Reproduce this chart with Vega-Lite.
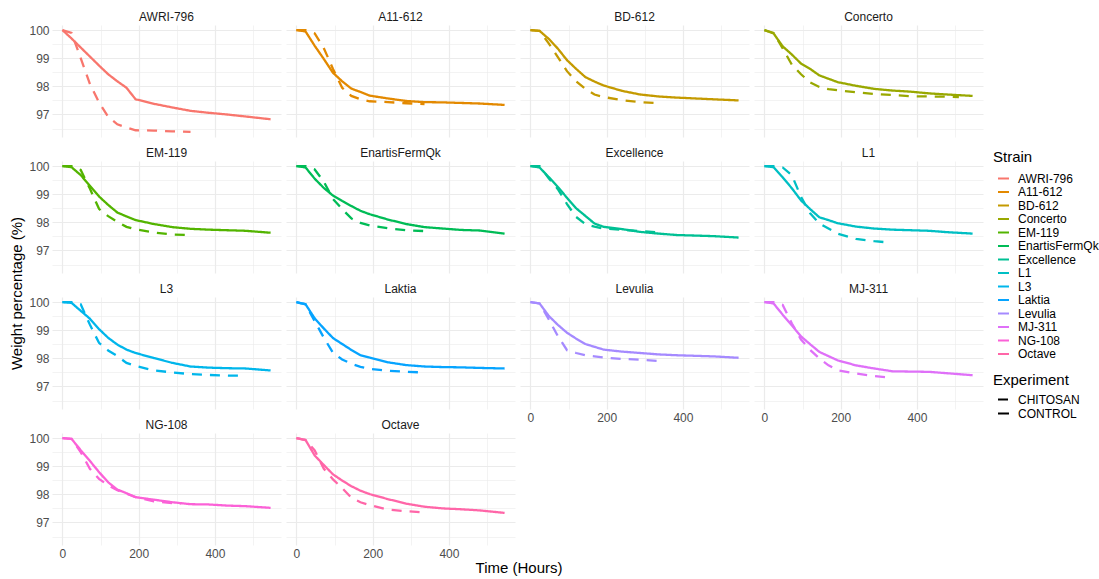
{
"$schema": "https://vega.github.io/schema/vega-lite/v6.json",
"padding": {"left": 9, "top": 11, "right": 5, "bottom": 2},
"title": {"text": "Weight percentage (%)", "orient": "left", "anchor": "middle", "fontSize": 15, "fontWeight": "normal", "font": "Liberation Sans", "color": "#000000", "offset": 4},
"datasets": {"d": [
{"strain":"AWRI-796","exp":"CONTROL","time":0,"w":100},{"strain":"AWRI-796","exp":"CONTROL","time":24,"w":99.70},{"strain":"AWRI-796","exp":"CONTROL","time":48,"w":99.38},{"strain":"AWRI-796","exp":"CONTROL","time":72,"w":99.06},{"strain":"AWRI-796","exp":"CONTROL","time":96,"w":98.74},{"strain":"AWRI-796","exp":"CONTROL","time":120,"w":98.43},{"strain":"AWRI-796","exp":"CONTROL","time":144,"w":98.18},{"strain":"AWRI-796","exp":"CONTROL","time":168,"w":97.95},{"strain":"AWRI-796","exp":"CONTROL","time":192,"w":97.54},{"strain":"AWRI-796","exp":"CONTROL","time":240,"w":97.38},{"strain":"AWRI-796","exp":"CONTROL","time":288,"w":97.25},{"strain":"AWRI-796","exp":"CONTROL","time":336,"w":97.13},{"strain":"AWRI-796","exp":"CONTROL","time":384,"w":97.06},{"strain":"AWRI-796","exp":"CONTROL","time":432,"w":97.00},{"strain":"AWRI-796","exp":"CONTROL","time":480,"w":96.93},{"strain":"AWRI-796","exp":"CONTROL","time":546,"w":96.83},
{"strain":"AWRI-796","exp":"CHITOSAN","time":0,"w":100},{"strain":"AWRI-796","exp":"CHITOSAN","time":24,"w":99.90},{"strain":"AWRI-796","exp":"CHITOSAN","time":48,"w":99.00},{"strain":"AWRI-796","exp":"CHITOSAN","time":72,"w":98.09},{"strain":"AWRI-796","exp":"CHITOSAN","time":96,"w":97.43},{"strain":"AWRI-796","exp":"CHITOSAN","time":120,"w":96.92},{"strain":"AWRI-796","exp":"CHITOSAN","time":144,"w":96.65},{"strain":"AWRI-796","exp":"CHITOSAN","time":168,"w":96.54},{"strain":"AWRI-796","exp":"CHITOSAN","time":192,"w":96.44},{"strain":"AWRI-796","exp":"CHITOSAN","time":240,"w":96.43},{"strain":"AWRI-796","exp":"CHITOSAN","time":288,"w":96.40},{"strain":"AWRI-796","exp":"CHITOSAN","time":336,"w":96.38},
{"strain":"A11-612","exp":"CONTROL","time":0,"w":100},{"strain":"A11-612","exp":"CONTROL","time":24,"w":99.95},{"strain":"A11-612","exp":"CONTROL","time":48,"w":99.44},{"strain":"A11-612","exp":"CONTROL","time":72,"w":98.97},{"strain":"A11-612","exp":"CONTROL","time":96,"w":98.48},{"strain":"A11-612","exp":"CONTROL","time":120,"w":98.18},{"strain":"A11-612","exp":"CONTROL","time":144,"w":97.92},{"strain":"A11-612","exp":"CONTROL","time":168,"w":97.80},{"strain":"A11-612","exp":"CONTROL","time":192,"w":97.67},{"strain":"A11-612","exp":"CONTROL","time":240,"w":97.57},{"strain":"A11-612","exp":"CONTROL","time":288,"w":97.48},{"strain":"A11-612","exp":"CONTROL","time":336,"w":97.44},{"strain":"A11-612","exp":"CONTROL","time":384,"w":97.43},{"strain":"A11-612","exp":"CONTROL","time":432,"w":97.41},{"strain":"A11-612","exp":"CONTROL","time":480,"w":97.39},{"strain":"A11-612","exp":"CONTROL","time":546,"w":97.34},
{"strain":"A11-612","exp":"CHITOSAN","time":0,"w":100},{"strain":"A11-612","exp":"CHITOSAN","time":24,"w":100},{"strain":"A11-612","exp":"CHITOSAN","time":48,"w":99.88},{"strain":"A11-612","exp":"CHITOSAN","time":72,"w":99.35},{"strain":"A11-612","exp":"CHITOSAN","time":96,"w":98.62},{"strain":"A11-612","exp":"CHITOSAN","time":120,"w":97.95},{"strain":"A11-612","exp":"CHITOSAN","time":144,"w":97.66},{"strain":"A11-612","exp":"CHITOSAN","time":168,"w":97.54},{"strain":"A11-612","exp":"CHITOSAN","time":192,"w":97.47},{"strain":"A11-612","exp":"CHITOSAN","time":240,"w":97.44},{"strain":"A11-612","exp":"CHITOSAN","time":288,"w":97.40},{"strain":"A11-612","exp":"CHITOSAN","time":336,"w":97.37},
{"strain":"BD-612","exp":"CONTROL","time":0,"w":100},{"strain":"BD-612","exp":"CONTROL","time":24,"w":99.97},{"strain":"BD-612","exp":"CONTROL","time":48,"w":99.69},{"strain":"BD-612","exp":"CONTROL","time":72,"w":99.34},{"strain":"BD-612","exp":"CONTROL","time":96,"w":98.93},{"strain":"BD-612","exp":"CONTROL","time":120,"w":98.62},{"strain":"BD-612","exp":"CONTROL","time":144,"w":98.33},{"strain":"BD-612","exp":"CONTROL","time":168,"w":98.17},{"strain":"BD-612","exp":"CONTROL","time":192,"w":98.03},{"strain":"BD-612","exp":"CONTROL","time":240,"w":97.84},{"strain":"BD-612","exp":"CONTROL","time":288,"w":97.71},{"strain":"BD-612","exp":"CONTROL","time":336,"w":97.64},{"strain":"BD-612","exp":"CONTROL","time":384,"w":97.60},{"strain":"BD-612","exp":"CONTROL","time":432,"w":97.57},{"strain":"BD-612","exp":"CONTROL","time":480,"w":97.54},{"strain":"BD-612","exp":"CONTROL","time":546,"w":97.50},
{"strain":"BD-612","exp":"CHITOSAN","time":0,"w":100},{"strain":"BD-612","exp":"CHITOSAN","time":24,"w":99.97},{"strain":"BD-612","exp":"CHITOSAN","time":48,"w":99.53},{"strain":"BD-612","exp":"CHITOSAN","time":72,"w":99.04},{"strain":"BD-612","exp":"CHITOSAN","time":96,"w":98.54},{"strain":"BD-612","exp":"CHITOSAN","time":120,"w":98.18},{"strain":"BD-612","exp":"CHITOSAN","time":144,"w":97.91},{"strain":"BD-612","exp":"CHITOSAN","time":168,"w":97.71},{"strain":"BD-612","exp":"CHITOSAN","time":192,"w":97.62},{"strain":"BD-612","exp":"CHITOSAN","time":240,"w":97.51},{"strain":"BD-612","exp":"CHITOSAN","time":288,"w":97.44},{"strain":"BD-612","exp":"CHITOSAN","time":336,"w":97.40},
{"strain":"Concerto","exp":"CONTROL","time":0,"w":100},{"strain":"Concerto","exp":"CONTROL","time":24,"w":99.88},{"strain":"Concerto","exp":"CONTROL","time":48,"w":99.42},{"strain":"Concerto","exp":"CONTROL","time":72,"w":99.13},{"strain":"Concerto","exp":"CONTROL","time":96,"w":98.81},{"strain":"Concerto","exp":"CONTROL","time":120,"w":98.62},{"strain":"Concerto","exp":"CONTROL","time":144,"w":98.39},{"strain":"Concerto","exp":"CONTROL","time":168,"w":98.27},{"strain":"Concerto","exp":"CONTROL","time":192,"w":98.15},{"strain":"Concerto","exp":"CONTROL","time":240,"w":98.02},{"strain":"Concerto","exp":"CONTROL","time":288,"w":97.91},{"strain":"Concerto","exp":"CONTROL","time":336,"w":97.85},{"strain":"Concerto","exp":"CONTROL","time":384,"w":97.81},{"strain":"Concerto","exp":"CONTROL","time":432,"w":97.75},{"strain":"Concerto","exp":"CONTROL","time":480,"w":97.71},{"strain":"Concerto","exp":"CONTROL","time":546,"w":97.66},
{"strain":"Concerto","exp":"CHITOSAN","time":0,"w":100},{"strain":"Concerto","exp":"CHITOSAN","time":24,"w":99.90},{"strain":"Concerto","exp":"CHITOSAN","time":48,"w":99.35},{"strain":"Concerto","exp":"CHITOSAN","time":72,"w":98.77},{"strain":"Concerto","exp":"CHITOSAN","time":96,"w":98.43},{"strain":"Concerto","exp":"CHITOSAN","time":120,"w":98.14},{"strain":"Concerto","exp":"CHITOSAN","time":144,"w":97.98},{"strain":"Concerto","exp":"CHITOSAN","time":168,"w":97.90},{"strain":"Concerto","exp":"CHITOSAN","time":192,"w":97.86},{"strain":"Concerto","exp":"CHITOSAN","time":240,"w":97.79},{"strain":"Concerto","exp":"CHITOSAN","time":288,"w":97.73},{"strain":"Concerto","exp":"CHITOSAN","time":336,"w":97.69},{"strain":"Concerto","exp":"CHITOSAN","time":384,"w":97.65},{"strain":"Concerto","exp":"CHITOSAN","time":432,"w":97.64},{"strain":"Concerto","exp":"CHITOSAN","time":480,"w":97.63},{"strain":"Concerto","exp":"CHITOSAN","time":510,"w":97.62},
{"strain":"EM-119","exp":"CONTROL","time":0,"w":100},{"strain":"EM-119","exp":"CONTROL","time":24,"w":99.96},{"strain":"EM-119","exp":"CONTROL","time":48,"w":99.68},{"strain":"EM-119","exp":"CONTROL","time":72,"w":99.30},{"strain":"EM-119","exp":"CONTROL","time":96,"w":98.92},{"strain":"EM-119","exp":"CONTROL","time":120,"w":98.62},{"strain":"EM-119","exp":"CONTROL","time":144,"w":98.35},{"strain":"EM-119","exp":"CONTROL","time":168,"w":98.21},{"strain":"EM-119","exp":"CONTROL","time":192,"w":98.08},{"strain":"EM-119","exp":"CONTROL","time":240,"w":97.94},{"strain":"EM-119","exp":"CONTROL","time":288,"w":97.83},{"strain":"EM-119","exp":"CONTROL","time":336,"w":97.77},{"strain":"EM-119","exp":"CONTROL","time":384,"w":97.74},{"strain":"EM-119","exp":"CONTROL","time":432,"w":97.72},{"strain":"EM-119","exp":"CONTROL","time":480,"w":97.70},{"strain":"EM-119","exp":"CONTROL","time":546,"w":97.63},
{"strain":"EM-119","exp":"CHITOSAN","time":0,"w":100},{"strain":"EM-119","exp":"CHITOSAN","time":24,"w":100},{"strain":"EM-119","exp":"CHITOSAN","time":48,"w":99.86},{"strain":"EM-119","exp":"CHITOSAN","time":72,"w":99.20},{"strain":"EM-119","exp":"CHITOSAN","time":96,"w":98.48},{"strain":"EM-119","exp":"CHITOSAN","time":120,"w":98.22},{"strain":"EM-119","exp":"CHITOSAN","time":144,"w":98.02},{"strain":"EM-119","exp":"CHITOSAN","time":168,"w":97.84},{"strain":"EM-119","exp":"CHITOSAN","time":192,"w":97.75},{"strain":"EM-119","exp":"CHITOSAN","time":240,"w":97.64},{"strain":"EM-119","exp":"CHITOSAN","time":288,"w":97.57},{"strain":"EM-119","exp":"CHITOSAN","time":336,"w":97.55},
{"strain":"EnartisFermQk","exp":"CONTROL","time":0,"w":100},{"strain":"EnartisFermQk","exp":"CONTROL","time":24,"w":99.95},{"strain":"EnartisFermQk","exp":"CONTROL","time":48,"w":99.55},{"strain":"EnartisFermQk","exp":"CONTROL","time":72,"w":99.22},{"strain":"EnartisFermQk","exp":"CONTROL","time":96,"w":98.95},{"strain":"EnartisFermQk","exp":"CONTROL","time":120,"w":98.76},{"strain":"EnartisFermQk","exp":"CONTROL","time":144,"w":98.58},{"strain":"EnartisFermQk","exp":"CONTROL","time":168,"w":98.41},{"strain":"EnartisFermQk","exp":"CONTROL","time":192,"w":98.29},{"strain":"EnartisFermQk","exp":"CONTROL","time":240,"w":98.10},{"strain":"EnartisFermQk","exp":"CONTROL","time":288,"w":97.94},{"strain":"EnartisFermQk","exp":"CONTROL","time":336,"w":97.83},{"strain":"EnartisFermQk","exp":"CONTROL","time":384,"w":97.78},{"strain":"EnartisFermQk","exp":"CONTROL","time":432,"w":97.73},{"strain":"EnartisFermQk","exp":"CONTROL","time":480,"w":97.71},{"strain":"EnartisFermQk","exp":"CONTROL","time":546,"w":97.60},
{"strain":"EnartisFermQk","exp":"CHITOSAN","time":0,"w":100},{"strain":"EnartisFermQk","exp":"CHITOSAN","time":24,"w":100},{"strain":"EnartisFermQk","exp":"CHITOSAN","time":48,"w":99.88},{"strain":"EnartisFermQk","exp":"CHITOSAN","time":72,"w":99.44},{"strain":"EnartisFermQk","exp":"CHITOSAN","time":96,"w":98.83},{"strain":"EnartisFermQk","exp":"CHITOSAN","time":120,"w":98.47},{"strain":"EnartisFermQk","exp":"CHITOSAN","time":144,"w":98.14},{"strain":"EnartisFermQk","exp":"CHITOSAN","time":168,"w":97.98},{"strain":"EnartisFermQk","exp":"CHITOSAN","time":192,"w":97.89},{"strain":"EnartisFermQk","exp":"CHITOSAN","time":240,"w":97.79},{"strain":"EnartisFermQk","exp":"CHITOSAN","time":288,"w":97.72},{"strain":"EnartisFermQk","exp":"CHITOSAN","time":336,"w":97.69},
{"strain":"Excellence","exp":"CONTROL","time":0,"w":100},{"strain":"Excellence","exp":"CONTROL","time":24,"w":99.95},{"strain":"Excellence","exp":"CONTROL","time":48,"w":99.61},{"strain":"Excellence","exp":"CONTROL","time":72,"w":99.26},{"strain":"Excellence","exp":"CONTROL","time":96,"w":98.87},{"strain":"Excellence","exp":"CONTROL","time":120,"w":98.50},{"strain":"Excellence","exp":"CONTROL","time":144,"w":98.23},{"strain":"Excellence","exp":"CONTROL","time":168,"w":97.96},{"strain":"Excellence","exp":"CONTROL","time":192,"w":97.84},{"strain":"Excellence","exp":"CONTROL","time":240,"w":97.76},{"strain":"Excellence","exp":"CONTROL","time":288,"w":97.66},{"strain":"Excellence","exp":"CONTROL","time":336,"w":97.60},{"strain":"Excellence","exp":"CONTROL","time":384,"w":97.55},{"strain":"Excellence","exp":"CONTROL","time":432,"w":97.53},{"strain":"Excellence","exp":"CONTROL","time":480,"w":97.51},{"strain":"Excellence","exp":"CONTROL","time":546,"w":97.46},
{"strain":"Excellence","exp":"CHITOSAN","time":0,"w":100},{"strain":"Excellence","exp":"CHITOSAN","time":24,"w":100},{"strain":"Excellence","exp":"CHITOSAN","time":48,"w":99.57},{"strain":"Excellence","exp":"CHITOSAN","time":72,"w":99.18},{"strain":"Excellence","exp":"CHITOSAN","time":96,"w":98.65},{"strain":"Excellence","exp":"CHITOSAN","time":120,"w":98.19},{"strain":"Excellence","exp":"CHITOSAN","time":144,"w":97.94},{"strain":"Excellence","exp":"CHITOSAN","time":168,"w":97.85},{"strain":"Excellence","exp":"CHITOSAN","time":192,"w":97.78},{"strain":"Excellence","exp":"CHITOSAN","time":240,"w":97.74},{"strain":"Excellence","exp":"CHITOSAN","time":288,"w":97.69},{"strain":"Excellence","exp":"CHITOSAN","time":336,"w":97.64},
{"strain":"L1","exp":"CONTROL","time":0,"w":100},{"strain":"L1","exp":"CONTROL","time":24,"w":99.96},{"strain":"L1","exp":"CONTROL","time":48,"w":99.60},{"strain":"L1","exp":"CONTROL","time":72,"w":99.21},{"strain":"L1","exp":"CONTROL","time":96,"w":98.78},{"strain":"L1","exp":"CONTROL","time":120,"w":98.47},{"strain":"L1","exp":"CONTROL","time":144,"w":98.18},{"strain":"L1","exp":"CONTROL","time":168,"w":98.08},{"strain":"L1","exp":"CONTROL","time":192,"w":97.97},{"strain":"L1","exp":"CONTROL","time":240,"w":97.85},{"strain":"L1","exp":"CONTROL","time":288,"w":97.78},{"strain":"L1","exp":"CONTROL","time":336,"w":97.74},{"strain":"L1","exp":"CONTROL","time":384,"w":97.72},{"strain":"L1","exp":"CONTROL","time":432,"w":97.70},{"strain":"L1","exp":"CONTROL","time":480,"w":97.65},{"strain":"L1","exp":"CONTROL","time":546,"w":97.60},
{"strain":"L1","exp":"CHITOSAN","time":0,"w":100},{"strain":"L1","exp":"CHITOSAN","time":24,"w":100},{"strain":"L1","exp":"CHITOSAN","time":48,"w":99.95},{"strain":"L1","exp":"CHITOSAN","time":72,"w":99.67},{"strain":"L1","exp":"CHITOSAN","time":96,"w":98.91},{"strain":"L1","exp":"CHITOSAN","time":120,"w":98.32},{"strain":"L1","exp":"CHITOSAN","time":144,"w":97.96},{"strain":"L1","exp":"CHITOSAN","time":168,"w":97.78},{"strain":"L1","exp":"CHITOSAN","time":192,"w":97.60},{"strain":"L1","exp":"CHITOSAN","time":240,"w":97.41},{"strain":"L1","exp":"CHITOSAN","time":288,"w":97.33},{"strain":"L1","exp":"CHITOSAN","time":330,"w":97.28},
{"strain":"L3","exp":"CONTROL","time":0,"w":100},{"strain":"L3","exp":"CONTROL","time":24,"w":99.97},{"strain":"L3","exp":"CONTROL","time":48,"w":99.69},{"strain":"L3","exp":"CONTROL","time":72,"w":99.41},{"strain":"L3","exp":"CONTROL","time":96,"w":99.04},{"strain":"L3","exp":"CONTROL","time":120,"w":98.73},{"strain":"L3","exp":"CONTROL","time":144,"w":98.49},{"strain":"L3","exp":"CONTROL","time":168,"w":98.31},{"strain":"L3","exp":"CONTROL","time":192,"w":98.19},{"strain":"L3","exp":"CONTROL","time":240,"w":98.01},{"strain":"L3","exp":"CONTROL","time":288,"w":97.84},{"strain":"L3","exp":"CONTROL","time":336,"w":97.71},{"strain":"L3","exp":"CONTROL","time":384,"w":97.67},{"strain":"L3","exp":"CONTROL","time":432,"w":97.65},{"strain":"L3","exp":"CONTROL","time":480,"w":97.64},{"strain":"L3","exp":"CONTROL","time":546,"w":97.57},
{"strain":"L3","exp":"CHITOSAN","time":0,"w":100},{"strain":"L3","exp":"CHITOSAN","time":24,"w":100},{"strain":"L3","exp":"CHITOSAN","time":48,"w":99.92},{"strain":"L3","exp":"CHITOSAN","time":72,"w":99.20},{"strain":"L3","exp":"CHITOSAN","time":96,"w":98.55},{"strain":"L3","exp":"CHITOSAN","time":120,"w":98.28},{"strain":"L3","exp":"CHITOSAN","time":144,"w":98.08},{"strain":"L3","exp":"CHITOSAN","time":168,"w":97.84},{"strain":"L3","exp":"CHITOSAN","time":192,"w":97.73},{"strain":"L3","exp":"CHITOSAN","time":240,"w":97.57},{"strain":"L3","exp":"CHITOSAN","time":288,"w":97.50},{"strain":"L3","exp":"CHITOSAN","time":336,"w":97.44},{"strain":"L3","exp":"CHITOSAN","time":384,"w":97.41},{"strain":"L3","exp":"CHITOSAN","time":432,"w":97.39},{"strain":"L3","exp":"CHITOSAN","time":476,"w":97.38},
{"strain":"Laktia","exp":"CONTROL","time":0,"w":100},{"strain":"Laktia","exp":"CONTROL","time":24,"w":99.92},{"strain":"Laktia","exp":"CONTROL","time":48,"w":99.42},{"strain":"Laktia","exp":"CONTROL","time":72,"w":99.06},{"strain":"Laktia","exp":"CONTROL","time":96,"w":98.72},{"strain":"Laktia","exp":"CONTROL","time":120,"w":98.51},{"strain":"Laktia","exp":"CONTROL","time":144,"w":98.30},{"strain":"Laktia","exp":"CONTROL","time":168,"w":98.11},{"strain":"Laktia","exp":"CONTROL","time":192,"w":98.03},{"strain":"Laktia","exp":"CONTROL","time":240,"w":97.86},{"strain":"Laktia","exp":"CONTROL","time":288,"w":97.76},{"strain":"Laktia","exp":"CONTROL","time":336,"w":97.71},{"strain":"Laktia","exp":"CONTROL","time":384,"w":97.69},{"strain":"Laktia","exp":"CONTROL","time":432,"w":97.68},{"strain":"Laktia","exp":"CONTROL","time":480,"w":97.66},{"strain":"Laktia","exp":"CONTROL","time":546,"w":97.64},
{"strain":"Laktia","exp":"CHITOSAN","time":0,"w":100},{"strain":"Laktia","exp":"CHITOSAN","time":24,"w":99.92},{"strain":"Laktia","exp":"CHITOSAN","time":48,"w":99.32},{"strain":"Laktia","exp":"CHITOSAN","time":72,"w":98.73},{"strain":"Laktia","exp":"CHITOSAN","time":96,"w":98.20},{"strain":"Laktia","exp":"CHITOSAN","time":120,"w":97.96},{"strain":"Laktia","exp":"CHITOSAN","time":144,"w":97.81},{"strain":"Laktia","exp":"CHITOSAN","time":168,"w":97.70},{"strain":"Laktia","exp":"CHITOSAN","time":192,"w":97.63},{"strain":"Laktia","exp":"CHITOSAN","time":240,"w":97.56},{"strain":"Laktia","exp":"CHITOSAN","time":288,"w":97.52},{"strain":"Laktia","exp":"CHITOSAN","time":330,"w":97.50},
{"strain":"Levulia","exp":"CONTROL","time":0,"w":100},{"strain":"Levulia","exp":"CONTROL","time":24,"w":99.95},{"strain":"Levulia","exp":"CONTROL","time":48,"w":99.51},{"strain":"Levulia","exp":"CONTROL","time":72,"w":99.19},{"strain":"Levulia","exp":"CONTROL","time":96,"w":98.91},{"strain":"Levulia","exp":"CONTROL","time":120,"w":98.70},{"strain":"Levulia","exp":"CONTROL","time":144,"w":98.51},{"strain":"Levulia","exp":"CONTROL","time":168,"w":98.41},{"strain":"Levulia","exp":"CONTROL","time":192,"w":98.31},{"strain":"Levulia","exp":"CONTROL","time":240,"w":98.24},{"strain":"Levulia","exp":"CONTROL","time":288,"w":98.19},{"strain":"Levulia","exp":"CONTROL","time":336,"w":98.14},{"strain":"Levulia","exp":"CONTROL","time":384,"w":98.11},{"strain":"Levulia","exp":"CONTROL","time":432,"w":98.09},{"strain":"Levulia","exp":"CONTROL","time":480,"w":98.07},{"strain":"Levulia","exp":"CONTROL","time":546,"w":98.02},
{"strain":"Levulia","exp":"CHITOSAN","time":0,"w":100},{"strain":"Levulia","exp":"CHITOSAN","time":24,"w":99.95},{"strain":"Levulia","exp":"CHITOSAN","time":48,"w":99.39},{"strain":"Levulia","exp":"CHITOSAN","time":72,"w":98.79},{"strain":"Levulia","exp":"CHITOSAN","time":96,"w":98.29},{"strain":"Levulia","exp":"CHITOSAN","time":120,"w":98.19},{"strain":"Levulia","exp":"CHITOSAN","time":144,"w":98.11},{"strain":"Levulia","exp":"CHITOSAN","time":168,"w":98.07},{"strain":"Levulia","exp":"CHITOSAN","time":192,"w":98.03},{"strain":"Levulia","exp":"CHITOSAN","time":240,"w":97.98},{"strain":"Levulia","exp":"CHITOSAN","time":288,"w":97.95},{"strain":"Levulia","exp":"CHITOSAN","time":333,"w":97.91},
{"strain":"MJ-311","exp":"CONTROL","time":0,"w":100},{"strain":"MJ-311","exp":"CONTROL","time":24,"w":99.95},{"strain":"MJ-311","exp":"CONTROL","time":48,"w":99.55},{"strain":"MJ-311","exp":"CONTROL","time":72,"w":99.17},{"strain":"MJ-311","exp":"CONTROL","time":96,"w":98.78},{"strain":"MJ-311","exp":"CONTROL","time":120,"w":98.50},{"strain":"MJ-311","exp":"CONTROL","time":144,"w":98.23},{"strain":"MJ-311","exp":"CONTROL","time":168,"w":98.08},{"strain":"MJ-311","exp":"CONTROL","time":192,"w":97.93},{"strain":"MJ-311","exp":"CONTROL","time":240,"w":97.75},{"strain":"MJ-311","exp":"CONTROL","time":288,"w":97.64},{"strain":"MJ-311","exp":"CONTROL","time":336,"w":97.54},{"strain":"MJ-311","exp":"CONTROL","time":384,"w":97.53},{"strain":"MJ-311","exp":"CONTROL","time":432,"w":97.52},{"strain":"MJ-311","exp":"CONTROL","time":480,"w":97.47},{"strain":"MJ-311","exp":"CONTROL","time":546,"w":97.40},
{"strain":"MJ-311","exp":"CHITOSAN","time":0,"w":100},{"strain":"MJ-311","exp":"CHITOSAN","time":24,"w":100},{"strain":"MJ-311","exp":"CHITOSAN","time":48,"w":99.90},{"strain":"MJ-311","exp":"CHITOSAN","time":72,"w":99.24},{"strain":"MJ-311","exp":"CHITOSAN","time":96,"w":98.67},{"strain":"MJ-311","exp":"CHITOSAN","time":120,"w":98.30},{"strain":"MJ-311","exp":"CHITOSAN","time":144,"w":98.00},{"strain":"MJ-311","exp":"CHITOSAN","time":168,"w":97.75},{"strain":"MJ-311","exp":"CHITOSAN","time":192,"w":97.58},{"strain":"MJ-311","exp":"CHITOSAN","time":240,"w":97.46},{"strain":"MJ-311","exp":"CHITOSAN","time":288,"w":97.37},{"strain":"MJ-311","exp":"CHITOSAN","time":330,"w":97.31},
{"strain":"NG-108","exp":"CONTROL","time":0,"w":100},{"strain":"NG-108","exp":"CONTROL","time":24,"w":99.97},{"strain":"NG-108","exp":"CONTROL","time":48,"w":99.57},{"strain":"NG-108","exp":"CONTROL","time":72,"w":99.19},{"strain":"NG-108","exp":"CONTROL","time":96,"w":98.79},{"strain":"NG-108","exp":"CONTROL","time":120,"w":98.43},{"strain":"NG-108","exp":"CONTROL","time":144,"w":98.17},{"strain":"NG-108","exp":"CONTROL","time":168,"w":98.04},{"strain":"NG-108","exp":"CONTROL","time":192,"w":97.90},{"strain":"NG-108","exp":"CONTROL","time":240,"w":97.81},{"strain":"NG-108","exp":"CONTROL","time":288,"w":97.72},{"strain":"NG-108","exp":"CONTROL","time":336,"w":97.65},{"strain":"NG-108","exp":"CONTROL","time":384,"w":97.64},{"strain":"NG-108","exp":"CONTROL","time":432,"w":97.60},{"strain":"NG-108","exp":"CONTROL","time":480,"w":97.58},{"strain":"NG-108","exp":"CONTROL","time":546,"w":97.52},
{"strain":"NG-108","exp":"CHITOSAN","time":0,"w":100},{"strain":"NG-108","exp":"CHITOSAN","time":24,"w":99.97},{"strain":"NG-108","exp":"CHITOSAN","time":48,"w":99.50},{"strain":"NG-108","exp":"CHITOSAN","time":72,"w":98.91},{"strain":"NG-108","exp":"CHITOSAN","time":96,"w":98.55},{"strain":"NG-108","exp":"CHITOSAN","time":120,"w":98.32},{"strain":"NG-108","exp":"CHITOSAN","time":144,"w":98.15},{"strain":"NG-108","exp":"CHITOSAN","time":168,"w":98.02},{"strain":"NG-108","exp":"CHITOSAN","time":192,"w":97.90},{"strain":"NG-108","exp":"CHITOSAN","time":240,"w":97.75},{"strain":"NG-108","exp":"CHITOSAN","time":288,"w":97.69},{"strain":"NG-108","exp":"CHITOSAN","time":310,"w":97.66},
{"strain":"Octave","exp":"CONTROL","time":0,"w":100},{"strain":"Octave","exp":"CONTROL","time":24,"w":99.93},{"strain":"Octave","exp":"CONTROL","time":48,"w":99.38},{"strain":"Octave","exp":"CONTROL","time":72,"w":99.04},{"strain":"Octave","exp":"CONTROL","time":96,"w":98.71},{"strain":"Octave","exp":"CONTROL","time":120,"w":98.49},{"strain":"Octave","exp":"CONTROL","time":144,"w":98.29},{"strain":"Octave","exp":"CONTROL","time":168,"w":98.13},{"strain":"Octave","exp":"CONTROL","time":192,"w":98.01},{"strain":"Octave","exp":"CONTROL","time":240,"w":97.83},{"strain":"Octave","exp":"CONTROL","time":288,"w":97.67},{"strain":"Octave","exp":"CONTROL","time":336,"w":97.56},{"strain":"Octave","exp":"CONTROL","time":384,"w":97.50},{"strain":"Octave","exp":"CONTROL","time":432,"w":97.47},{"strain":"Octave","exp":"CONTROL","time":480,"w":97.43},{"strain":"Octave","exp":"CONTROL","time":546,"w":97.34},
{"strain":"Octave","exp":"CHITOSAN","time":0,"w":100},{"strain":"Octave","exp":"CHITOSAN","time":24,"w":99.93},{"strain":"Octave","exp":"CHITOSAN","time":48,"w":99.56},{"strain":"Octave","exp":"CHITOSAN","time":72,"w":98.91},{"strain":"Octave","exp":"CHITOSAN","time":96,"w":98.53},{"strain":"Octave","exp":"CHITOSAN","time":120,"w":98.22},{"strain":"Octave","exp":"CHITOSAN","time":144,"w":97.88},{"strain":"Octave","exp":"CHITOSAN","time":168,"w":97.72},{"strain":"Octave","exp":"CHITOSAN","time":192,"w":97.62},{"strain":"Octave","exp":"CHITOSAN","time":240,"w":97.46},{"strain":"Octave","exp":"CHITOSAN","time":288,"w":97.40},{"strain":"Octave","exp":"CHITOSAN","time":330,"w":97.36}
]},
"data": {"name": "d"},
"vconcat": [{
  "title": {"text": "Time (Hours)", "orient": "bottom", "anchor": "middle", "fontSize": 15, "fontWeight": "normal", "font": "Liberation Sans", "color": "#000000", "offset": 2, "dx": 13},
  "spacing": 5,
  "resolve": {"scale": {"color": "shared", "strokeDash": "shared", "x": "shared", "y": "shared"}, "legend": {"color": "shared", "strokeDash": "shared"}},
  "hconcat": [
  {
    "transform": [{"filter": {"field": "strain", "oneOf": ["AWRI-796","A11-612","EM-119","EnartisFermQk","L3","Laktia","NG-108","Octave"]}}],
    "facet": {"field": "strain", "type": "nominal",
      "sort": ["AWRI-796","A11-612","EM-119","EnartisFermQk","L3","Laktia","NG-108","Octave"],
      "header": {"title": null, "labelFontSize": 12, "labelFont": "Liberation Sans", "labelColor": "#1a1a1a", "labelPadding": 1}},
    "columns": 2,
    "spacing": {"row": 10, "column": 5},
    "spec": {
      "width": 229, "height": 112,
      "mark": {"type": "line", "strokeWidth": 2.3},
      "encoding": {
        "x": {"field": "time", "type": "quantitative",
          "scale": {"domain": [-27.3, 573.3], "nice": false, "zero": false},
          "axis": {"title": null, "values": [0,100,200,300,400,500], "labelExpr": "datum.value % 200 === 0 ? format(datum.value, 'd') : ''", "labelFlush": false,
            "gridWidth": {"condition": {"test": "datum.value % 200 !== 0", "value": 0.6}, "value": 1.2}}},
        "y": {"field": "w", "type": "quantitative",
          "scale": {"domain": [96.2, 100.18], "nice": false, "zero": false},
          "axis": {"title": null, "values": [96.5,97,97.5,98,98.5,99,99.5,100], "labelExpr": "datum.value % 1 === 0 ? format(datum.value, 'd') : ''",
            "gridWidth": {"condition": {"test": "datum.value % 1 !== 0", "value": 0.6}, "value": 1.2}}},
        "color": {"field": "strain", "type": "nominal",
          "scale": {"domain": ["AWRI-796","A11-612","BD-612","Concerto","EM-119","EnartisFermQk","Excellence","L1","L3","Laktia","Levulia","MJ-311","NG-108","Octave"],
            "range": ["#F8766D","#E38900","#C49A00","#99A800","#53B400","#00BC56","#00C094","#00BFC4","#00B6EB","#06A4FF","#A58AFF","#DF70F8","#FB61D7","#FF66A8"]},
          "legend": {"title": "Strain", "orient": "none", "legendX": 941, "legendY": 125, "symbolType": "stroke", "symbolStrokeWidth": 2, "symbolSize": 121, "symbolOffset": 4, "labelOffset": 8, "rowPadding": 0.5, "titlePadding": 7}},
        "strokeDash": {"field": "exp", "type": "nominal",
          "scale": {"domain": ["CHITOSAN","CONTROL"], "range": [[10,8],[1,0]]},
          "legend": {"title": "Experiment", "orient": "none", "legendX": 941, "legendY": 348, "symbolType": "stroke", "symbolStrokeColor": "#000000", "symbolStrokeWidth": 2, "symbolSize": 121, "symbolOffset": 4, "labelOffset": 8, "rowPadding": 1, "titlePadding": 5}}
      }
    }
  },
  {
    "transform": [{"filter": {"field": "strain", "oneOf": ["BD-612","Concerto","Excellence","L1","Levulia","MJ-311"]}}],
    "facet": {"field": "strain", "type": "nominal",
      "sort": ["BD-612","Concerto","Excellence","L1","Levulia","MJ-311"],
      "header": {"title": null, "labelFontSize": 12, "labelFont": "Liberation Sans", "labelColor": "#1a1a1a", "labelPadding": 1}},
    "columns": 2,
    "spacing": {"row": 10, "column": 5},
    "spec": {
      "width": 229, "height": 112,
      "mark": {"type": "line", "strokeWidth": 2.3},
      "encoding": {
        "x": {"field": "time", "type": "quantitative",
          "scale": {"domain": [-27.3, 573.3], "nice": false, "zero": false},
          "axis": {"title": null, "values": [0,100,200,300,400,500], "labelExpr": "datum.value % 200 === 0 ? format(datum.value, 'd') : ''", "labelFlush": false,
            "gridWidth": {"condition": {"test": "datum.value % 200 !== 0", "value": 0.6}, "value": 1.2}}},
        "y": {"field": "w", "type": "quantitative",
          "scale": {"domain": [96.2, 100.18], "nice": false, "zero": false},
          "axis": {"title": null, "labels": false, "values": [96.5,97,97.5,98,98.5,99,99.5,100],
            "gridWidth": {"condition": {"test": "datum.value % 1 !== 0", "value": 0.6}, "value": 1.2}}},
        "color": {"field": "strain", "type": "nominal",
          "scale": {"domain": ["AWRI-796","A11-612","BD-612","Concerto","EM-119","EnartisFermQk","Excellence","L1","L3","Laktia","Levulia","MJ-311","NG-108","Octave"],
            "range": ["#F8766D","#E38900","#C49A00","#99A800","#53B400","#00BC56","#00C094","#00BFC4","#00B6EB","#06A4FF","#A58AFF","#DF70F8","#FB61D7","#FF66A8"]},
          "legend": {"title": "Strain", "orient": "none", "legendX": 941, "legendY": 125, "symbolType": "stroke", "symbolStrokeWidth": 2, "symbolSize": 121, "symbolOffset": 4, "labelOffset": 8, "rowPadding": 0.5, "titlePadding": 7}},
        "strokeDash": {"field": "exp", "type": "nominal",
          "scale": {"domain": ["CHITOSAN","CONTROL"], "range": [[10,8],[1,0]]},
          "legend": {"title": "Experiment", "orient": "none", "legendX": 941, "legendY": 348, "symbolType": "stroke", "symbolStrokeColor": "#000000", "symbolStrokeWidth": 2, "symbolSize": 121, "symbolOffset": 4, "labelOffset": 8, "rowPadding": 1, "titlePadding": 5}}
      }
    }
  }
  ]
}],
"config": {
  "font": "Liberation Sans",
  "view": {"stroke": null},
  "axis": {"domain": false, "ticks": false, "labelFontSize": 12, "labelColor": "#4D4D4D", "labelPadding": 3, "gridColor": "#EBEBEB", "labelFont": "Liberation Sans"},
  "legend": {"titleFontSize": 15, "titleFontWeight": "normal", "titleColor": "#000000", "labelFontSize": 12, "labelColor": "#000000", "titleFont": "Liberation Sans", "labelFont": "Liberation Sans"}
}
}
